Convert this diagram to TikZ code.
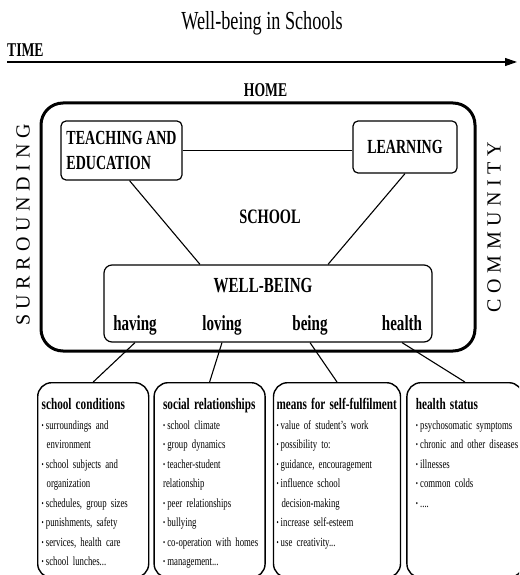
\documentclass[tikz,border=0pt]{standalone}
\usepackage{fontspec}
\setmainfont{Liberation Serif}[FakeStretch=0.7]
\newfontfamily\sidefont{Liberation Serif}[LetterSpace=28]
\usepackage{tikz}
\usetikzlibrary{arrows.meta,positioning}
\tikzset{>/.tip={Triangle[length=12pt,width=8pt]}}
\tikzset{link/.style={line width=1.1pt}}
\tikzset{part/.style={draw,rounded corners=5pt,line width=1.2pt,align=left,inner sep=0pt,font=\bfseries\fontsize{20}{25}\selectfont}}
\tikzset{aspect/.style={draw,rounded corners=14pt,line width=1.4pt,anchor=north west,align=left,inner ysep=0pt,text height=27pt,text depth=168pt,font=\fontsize{12.5}{19.5}\selectfont}}
\tikzset{word/.style={anchor=base,font=\bfseries\fontsize{21.5}{21.5}\selectfont}}
\newcommand\hd[1]{\mbox{\bfseries\fontsize{16}{19.5}\selectfont #1}}
\newcommand\itm[1]{\mbox{\raisebox{.15ex}{\scalebox{.7}{•}}\,#1}}
\newcommand\cnt[1]{\mbox{\hspace*{5pt}#1}}

\begin{document}
\begin{tikzpicture}[x=1pt,y=-1pt]
        \useasboundingbox (0,0) rectangle (519,575);
        \clip (0,0) rectangle (519,575);
        \node[anchor=base,font=\fontsize{26}{26}\selectfont] (title) at (262,30) {Well-being in Schools};
        \node[anchor=base west,inner sep=0pt,font=\bfseries\fontsize{19.5}{19.5}\selectfont] (time) at (7,57) {TIME};
        \coordinate (tend) at (517,62);
        \draw[line width=1.2pt,->] (time.base west |- tend) -- (tend);
        \node[anchor=base,font=\bfseries\fontsize{19.5}{19.5}\selectfont] (home) at (265.5,97) {HOME};
        \node[draw,line width=3pt,rounded corners=22pt,minimum width=434pt,minimum height=248pt] (school) at (258,227) {};
        \node[rotate=90,font=\sidefont\fontsize{20}{20}\selectfont] (surr) at (23,225) {SURROUNDING};
        \node[rotate=90,font=\sidefont\fontsize{20}{20}\selectfont] (comm) at (494,227) {COMMUNITY};
        \node[font=\bfseries\fontsize{20.5}{20.5}\selectfont] (schoollabel) at (270,217) {SCHOOL};
        \node[part,minimum width=121pt,minimum height=59pt] (teach) at (121.5,150.5) {TEACHING AND\\EDUCATION};
        \node[part,minimum width=104pt,minimum height=52pt] (learn) at (405,147) {LEARNING};
        \node[draw,rounded corners=8pt,line width=1.2pt,minimum width=328pt,minimum height=77pt] (wb) at (268,303.5) {};
        \node[word] (wblabel) at (263,292) {WELL-BEING};
        \node[word] (having) at (135,330) {having};
        \node[word] (loving) at (222,330) {loving};
        \node[word] (being) at (310,330) {being};
        \node[word] (health) at (402,330) {health};
        \node[aspect,inner xsep=4pt,text width=103pt] (cond) at (37,382)
        {\hd{school conditions}\\
         \itm{surroundings and}\\
         \cnt{environment}\\
         \itm{school subjects and}\\
         \cnt{organization}\\
         \itm{schedules, group sizes}\\
         \itm{punishments, safety}\\
         \itm{services, health care}\\
         \itm{school lunches...}};
        \node[aspect,inner xsep=9pt,text width=93pt,right=4pt of cond.north east,anchor=north west] (social)
        {\hd{social relationships}\\
         \itm{school climate}\\
         \itm{group dynamics}\\
         \itm{teacher-student}\\
         \mbox{relationship}\\
         \itm{peer relationships}\\
         \itm{bullying}\\
         \itm{co-operation with homes}\\
         \itm{management...}};
        \node[aspect,inner xsep=3pt,text width=121pt,right=7pt of social.north east,anchor=north west] (means)
        {\hd{means for self-fulfilment}\\
         \itm{value of student’s work}\\
         \itm{possibility to:}\\
         \itm{guidance, encouragement}\\
         \itm{influence school}\\
         \cnt{decision-making}\\
         \itm{increase self-esteem}\\
         \itm{use creativity...}};
        \node[aspect,inner xsep=9pt,text width=98pt,right=5pt of means.north east,anchor=north west] (status)
        {\hd{health status}\\
         \itm{psychosomatic symptoms}\\
         \itm{chronic and other diseases}\\
         \itm{illnesses}\\
         \itm{common colds}\\
         \itm{....}};
        \draw[link]
        (teach.east) edge (teach.east -| learn.west)
        ([xshift=8pt]teach.south) edge ([xshift=-68pt]wb.north)
        (learn.south) edge ([xshift=60pt]wb.north)
        (wb.south -| having) edge (cond.north)
        (wb.south -| loving) edge (social.north)
        (wb.south -| being) edge (means.north)
        (wb.south -| health) edge (status.north);
      \end{tikzpicture}
\end{document}
